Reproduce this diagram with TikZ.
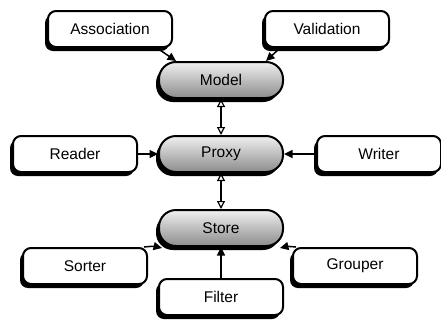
\documentclass[tikz,border=0pt]{standalone}
\usepackage{fontspec}
\setmainfont{Liberation Sans}
\usetikzlibrary{shadows,arrows.meta}
\begin{document}
\begin{tikzpicture}[x=1pt,y=-1pt,
  shad/.style={drop shadow={shadow xshift=-3pt,shadow yshift=-4pt,fill=black,opacity=1}},
  box/.style={draw,line width=2pt,rounded corners=8pt,fill=white,minimum width=124pt,minimum height=36pt,inner sep=0pt,font=\fontsize{15.5}{18}\selectfont,shad},
  pill/.style={box,rounded corners=17pt,top color=white!94!black,bottom color=black!45},
  arr/.style={line width=1.5pt,-{Triangle[length=8.5pt,width=8pt]}},
  darr/.style={line width=1.3pt,{Triangle[open,length=8pt,width=8pt,line width=1.2pt]}-{Triangle[open,length=8pt,width=8pt,line width=1.2pt]}}
]
\useasboundingbox (0,0) rectangle (441,322);
\node[box] (assoc) at (110,29) {Association};
\node[box] (valid) at (327,29) {Validation};
\node[pill] (model) at (221,80) {Model};
\node[pill] (proxy) at (221,154) {Proxy};
\node[box] (reader) at (75,154) {Reader};
\node[box] (writer) at (379,154) {Writer};
\node[pill] (store) at (221,228) {Store};
\node[box] (sorter) at (85,266) {Sorter};
\node[box] (grouper) at (355,266) {Grouper};
\node[box] (filter) at (221,297) {Filter};
\draw[arr] ([xshift=-16pt]assoc.south east) -- ([xshift=18pt]model.north west);
\draw[arr] ([xshift=16pt]valid.south west) -- ([xshift=-18pt]model.north east);
\draw[darr] (model) -- (proxy);
\draw[darr] (proxy) -- (store);
\draw[arr] (reader) -- (proxy);
\draw[arr] (writer) -- (proxy);
\draw[arr] ([xshift=-4pt]sorter.north east) to[bend left=10] ([xshift=4pt,yshift=-1pt]store.south west);
\draw[arr] ([xshift=4pt]grouper.north west) to[bend right=10] ([xshift=-4pt,yshift=-1pt]store.south east);
\draw[arr] (filter) -- (store);
\end{tikzpicture}
\end{document}
